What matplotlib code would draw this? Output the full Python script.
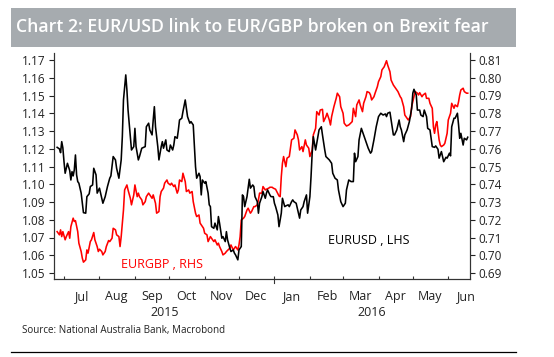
import numpy as np
import pandas as pd
import matplotlib
matplotlib.use("Agg")
import matplotlib.pyplot as plt
import matplotlib.dates as mdates
import matplotlib.transforms as mtrans
from matplotlib.patches import Rectangle
from matplotlib.lines import Line2D

plt.rcParams['font.family'] = ['Open Sans', 'DejaVu Sans']

START = pd.Timestamp("2015-07-01")

title = "Chart 2: EUR/USD link to EUR/GBP broken on Brexit fear"
source = "Source: National Australia Bank, Macrobond"
usd_label = "EURUSD , LHS"
gbp_label = "EURGBP , RHS"
year_labels = ["2015", "2016"]
lhs_ticks = [1.05, 1.06, 1.07, 1.08, 1.09, 1.10, 1.11, 1.12, 1.13, 1.14, 1.15, 1.16, 1.17]
rhs_ticks = [0.69, 0.70, 0.71, 0.72, 0.73, 0.74, 0.75, 0.76, 0.77, 0.78, 0.79, 0.80, 0.81]

# EURUSD (LHS): days since 2015-07-01 and values
usd_day = [-6, -4, -3, -2, -1, 0, 1, 2, 3, 5,
           6, 7, 8, 9, 10, 11, 12, 13, 15, 16,
           17, 19, 20, 22, 23, 25, 26, 28, 29, 31,
           32, 34, 36, 38, 40, 41, 43, 45, 46, 48,
           50, 51, 52, 54, 55, 56, 58, 59, 61, 62,
           63, 65, 66, 68, 71, 72, 74, 75, 77, 78,
           79, 80, 82, 83, 85, 86, 87, 89, 90, 92,
           93, 95, 96, 97, 99, 100, 101, 103, 104, 106,
           107, 108, 110, 111, 113, 114, 115, 116, 118, 119,
           120, 121, 123, 124, 126, 127, 128, 129, 131, 132,
           134, 135, 136, 138, 139, 141, 142, 143, 145, 146,
           148, 149, 150, 152, 153, 155, 156, 157, 158, 160,
           162, 163, 165, 166, 167, 169, 170, 171, 173, 174,
           176, 177, 178, 180, 181, 183, 184, 185, 187, 188,
           190, 191, 193, 194, 196, 197, 199, 200, 201, 203,
           204, 206, 207, 209, 210, 212, 213, 215, 216, 217,
           218, 220, 221, 223, 225, 226, 228, 229, 232, 234,
           235, 237, 239, 240, 242, 244, 246, 247, 249, 251,
           253, 254, 255, 257, 258, 260, 262, 264, 266, 268,
           269, 271, 273, 275, 277, 279, 281, 282, 283, 285,
           286, 288, 289, 291, 293, 294, 295, 297, 298, 300,
           302, 304, 305, 306, 308, 309, 311, 312, 314, 315,
           317, 318, 320, 321, 322, 324, 325, 327, 328, 330,
           331, 332, 334, 335, 337, 338, 339, 341, 342, 344,
           345, 346, 347, 349, 350, 352, 353]
usd_val = [1.1208, 1.1199, 1.1178, 1.1240, 1.1205, 1.1127, 1.1062, 1.1090, 1.1118, 1.1077,
           1.1024, 1.1071, 1.1047, 1.1081, 1.1165, 1.1053, 1.1015, 1.1006, 1.0950, 1.0893,
           1.0840, 1.0837, 1.0930, 1.0946, 1.0987, 1.0996, 1.1090, 1.1053, 1.0950, 1.0978,
           1.0950, 1.0893, 1.0930, 1.0987, 1.1034, 1.1047, 1.1156, 1.1137, 1.1090, 1.1034,
           1.1137, 1.1268, 1.1475, 1.1616, 1.1531, 1.1418, 1.1268, 1.1193, 1.1212, 1.1315,
           1.1212, 1.1137, 1.1156, 1.1203, 1.1212, 1.1324, 1.1344, 1.1306, 1.1278, 1.1362,
           1.1437, 1.1324, 1.1212, 1.1137, 1.1212, 1.1240, 1.1203, 1.1250, 1.1193, 1.1184,
           1.1221, 1.1193, 1.1221, 1.1268, 1.1259, 1.1306, 1.1362, 1.1372, 1.1409, 1.1475,
           1.1428, 1.1381, 1.1344, 1.1353, 1.1334, 1.1212, 1.1099, 1.1034, 1.1062, 1.1043,
           1.0940, 1.1024, 1.1006, 1.1015, 1.0950, 1.0884, 1.0874, 1.0761, 1.0752, 1.0781,
           1.0743, 1.0818, 1.0781, 1.0696, 1.0705, 1.0677, 1.0733, 1.0687, 1.0640, 1.0621,
           1.0630, 1.0612, 1.0602, 1.0574, 1.0630, 1.0649, 1.0940, 1.0930, 1.0874, 1.0930,
           1.1028, 1.0978, 1.0996, 1.0987, 1.0930, 1.0902, 1.0837, 1.0893, 1.0930, 1.0959,
           1.0921, 1.0950, 1.0968, 1.0940, 1.0930, 1.0930, 1.0893, 1.0874, 1.0827, 1.0761,
           1.0837, 1.0921, 1.0874, 1.0878, 1.0884, 1.0874, 1.0902, 1.0912, 1.0902, 1.0893,
           1.0865, 1.0809, 1.0855, 1.0874, 1.0902, 1.0940, 1.0837, 1.0930, 1.1043, 1.1175,
           1.1268, 1.1193, 1.1231, 1.1306, 1.1324, 1.1278, 1.1193, 1.1156, 1.1137, 1.1118,
           1.1062, 1.1034, 1.1024, 1.0968, 1.0902, 1.0874, 1.0893, 1.0968, 1.1024, 1.1015,
           1.1015, 1.1175, 1.1127, 1.1156, 1.1250, 1.1315, 1.1278, 1.1240, 1.1203, 1.1175,
           1.1184, 1.1250, 1.1324, 1.1381, 1.1400, 1.1390, 1.1396, 1.1381, 1.1400, 1.1406,
           1.1362, 1.1278, 1.1278, 1.1306, 1.1362, 1.1324, 1.1306, 1.1240, 1.1278, 1.1306,
           1.1353, 1.1428, 1.1513, 1.1535, 1.1503, 1.1418, 1.1418, 1.1390, 1.1381, 1.1418,
           1.1381, 1.1315, 1.1306, 1.1259, 1.1212, 1.1208, 1.1216, 1.1197, 1.1147, 1.1184,
           1.1156, 1.1127, 1.1152, 1.1147, 1.1175, 1.1160, 1.1324, 1.1372, 1.1372, 1.1400,
           1.1334, 1.1259, 1.1287, 1.1221, 1.1259, 1.1250, 1.1265]

# EURGBP (RHS): days since 2015-07-01 and values
gbp_day = [-6, -4, -3, -2, -1, 1, 2, 4, 5, 6,
           8, 9, 10, 12, 13, 15, 16, 17, 19, 20,
           21, 23, 24, 26, 27, 29, 30, 31, 33, 34,
           36, 37, 39, 40, 42, 43, 45, 46, 48, 49,
           50, 52, 53, 55, 56, 58, 59, 61, 62, 64,
           65, 66, 68, 69, 71, 72, 74, 75, 77, 78,
           80, 81, 83, 84, 85, 87, 88, 90, 91, 93,
           94, 96, 97, 99, 100, 101, 103, 104, 106, 107,
           109, 110, 112, 113, 115, 116, 118, 119, 120, 122,
           123, 125, 126, 128, 129, 131, 132, 134, 135, 136,
           138, 139, 141, 142, 145, 146, 148, 149, 150, 152,
           153, 154, 155, 157, 158, 160, 161, 163, 164, 166,
           167, 169, 170, 171, 173, 174, 176, 177, 179, 180,
           182, 183, 185, 186, 188, 189, 190, 191, 192, 194,
           195, 197, 198, 199, 201, 202, 204, 205, 206, 208,
           209, 211, 212, 214, 215, 217, 218, 220, 221, 223,
           224, 226, 227, 229, 230, 232, 233, 234, 236, 238,
           239, 241, 242, 244, 245, 247, 249, 250, 252, 253,
           255, 256, 258, 259, 261, 262, 264, 265, 267, 268,
           269, 271, 272, 274, 275, 277, 278, 280, 282, 283,
           285, 286, 288, 290, 292, 294, 295, 297, 298, 300,
           301, 303, 304, 306, 307, 309, 310, 311, 313, 314,
           316, 317, 319, 320, 322, 323, 324, 325, 326, 328,
           329, 330, 332, 333, 335, 336, 338, 339, 341, 342,
           344, 345, 346, 347, 349, 350, 352, 353]
gbp_val = [0.7133, 0.7115, 0.7143, 0.7105, 0.7133, 0.7087, 0.7105, 0.7133, 0.7096, 0.7161,
           0.7209, 0.7190, 0.7195, 0.7133, 0.7068, 0.7021, 0.6984, 0.6961, 0.6974, 0.7030,
           0.7012, 0.7077, 0.7087, 0.7128, 0.7087, 0.7049, 0.7021, 0.7034, 0.7021, 0.7002,
           0.7021, 0.7049, 0.7083, 0.7077, 0.7096, 0.7152, 0.7143, 0.7115, 0.7105, 0.7049,
           0.7105, 0.7255, 0.7368, 0.7396, 0.7368, 0.7321, 0.7284, 0.7340, 0.7396, 0.7330,
           0.7350, 0.7330, 0.7312, 0.7284, 0.7302, 0.7330, 0.7350, 0.7340, 0.7321, 0.7340,
           0.7293, 0.7237, 0.7246, 0.7330, 0.7359, 0.7378, 0.7406, 0.7424, 0.7406, 0.7396,
           0.7406, 0.7387, 0.7396, 0.7350, 0.7368, 0.7424, 0.7415, 0.7462, 0.7415, 0.7359,
           0.7368, 0.7350, 0.7359, 0.7302, 0.7237, 0.7218, 0.7227, 0.7181, 0.7171, 0.7152,
           0.7124, 0.7115, 0.7077, 0.7105, 0.7096, 0.7077, 0.7087, 0.7058, 0.7068, 0.7049,
           0.7021, 0.7002, 0.7012, 0.7021, 0.7040, 0.7058, 0.7030, 0.7040, 0.7049, 0.7030,
           0.7058, 0.7105, 0.7199, 0.7209, 0.7218, 0.7255, 0.7265, 0.7237, 0.7246, 0.7274,
           0.7274, 0.7284, 0.7312, 0.7350, 0.7350, 0.7387, 0.7368, 0.7372, 0.7378, 0.7383,
           0.7383, 0.7378, 0.7372, 0.7359, 0.7334, 0.7330, 0.7443, 0.7518, 0.7556, 0.7499,
           0.7547, 0.7556, 0.7603, 0.7650, 0.7659, 0.7706, 0.7678, 0.7650, 0.7593, 0.7612,
           0.7584, 0.7650, 0.7621, 0.7603, 0.7556, 0.7593, 0.7678, 0.7715, 0.7809, 0.7790,
           0.7818, 0.7822, 0.7753, 0.7781, 0.7800, 0.7762, 0.7734, 0.7781, 0.7837, 0.7884,
           0.7913, 0.7893, 0.7837, 0.7800, 0.7744, 0.7728, 0.7734, 0.7740, 0.7753, 0.7828,
           0.7781, 0.7847, 0.7875, 0.7847, 0.7809, 0.7856, 0.7893, 0.7922, 0.7916, 0.7903,
           0.7875, 0.7893, 0.7913, 0.7950, 0.7978, 0.8006, 0.8044, 0.8062, 0.8096, 0.8072,
           0.8034, 0.7987, 0.7959, 0.7941, 0.7922, 0.7893, 0.7884, 0.7837, 0.7790, 0.7772,
           0.7762, 0.7781, 0.7837, 0.7893, 0.7922, 0.7913, 0.7903, 0.7916, 0.7893, 0.7903,
           0.7913, 0.7884, 0.7884, 0.7856, 0.7828, 0.7724, 0.7687, 0.7734, 0.7753, 0.7650,
           0.7621, 0.7612, 0.7621, 0.7631, 0.7687, 0.7762, 0.7800, 0.7856, 0.7828, 0.7847,
           0.7837, 0.7865, 0.7903, 0.7931, 0.7941, 0.7922, 0.7913, 0.7913]

usd_dates = START + pd.to_timedelta(usd_day, unit="D")
gbp_dates = START + pd.to_timedelta(gbp_day, unit="D")

W, H = 554, 357
fig = plt.figure(figsize=(W / 100, H / 100), dpi=100)

# title bar
fig.patches.append(Rectangle((10.6 / W, 1 - 47 / H), (516 - 10.6) / W, 39 / H,
                             transform=fig.transFigure, facecolor="#A6ABAF",
                             edgecolor="none", zorder=0))
fig.text(16 / W, 1 - 27.5 / H, title, color="white", fontsize=12.7,
         fontweight="semibold", ha="left", va="center")

ax = fig.add_axes([54 / W, 1 - 279 / H, (470 - 54) / W, 226 / H])
ax2 = ax.twinx()
ax.set_zorder(ax2.get_zorder() + 1)
ax.patch.set_visible(False)

ax2.plot(gbp_dates, gbp_val, color="#FF0000", lw=1.15)
ax.plot(usd_dates, usd_val, color="black", lw=1.15)

x0 = START - pd.Timedelta(days=8.75)
x1 = START + pd.Timedelta(days=355)
ax.set_xlim(x0, x1)
ax.set_ylim(1.05 - 6 / 1775, 1.17 + 7 / 1775)
ax2.set_ylim(0.69 - 6 / 1775, 0.81 + 7 / 1775)

ax.set_yticks(lhs_ticks)
ax.set_yticklabels([f"{v:.2f}" for v in lhs_ticks])
ax2.set_yticks(rhs_ticks)
ax2.set_yticklabels([f"{v:.2f}" for v in rhs_ticks])

for a in (ax, ax2):
    a.spines["top"].set_visible(False)
    for s in a.spines.values():
        s.set_color("#333333")
        s.set_linewidth(0.8)
ax.tick_params(axis="y", direction="out", length=3.5, width=0.8, pad=2.5,
               labelsize=8.5, colors="#222222", left=True, right=False)
ax2.tick_params(axis="y", direction="out", length=3.5, width=0.8, pad=2.5,
                labelsize=8.5, colors="#222222", right=True, left=False)

# x axis: month boundary ticks inside, labels mid-month
ax.xaxis.set_major_locator(mdates.MonthLocator())
ax.xaxis.set_major_formatter(plt.NullFormatter())
ax.xaxis.set_minor_locator(mdates.MonthLocator(bymonthday=16))
ax.xaxis.set_minor_formatter(mdates.DateFormatter("%b"))
ax.tick_params(axis="x", which="major", direction="in", length=2.5, width=0.8,
               colors="#333333")
ax.tick_params(axis="x", which="minor", length=0, pad=8, labelsize=9,
               labelcolor="#222222")
ax2.tick_params(axis="x", which="both", length=0, labelbottom=False)

# year boundary tick (downward)
trans = mtrans.blended_transform_factory(ax.transData, ax.transAxes)
jan = pd.Timestamp("2016-01-01")
ax.add_line(Line2D([jan, jan], [0, -3.5 / 226], transform=trans, color="#333333",
                   lw=0.8, clip_on=False))

for lab, (a, b) in zip(year_labels, [(x0, jan), (jan, x1)]):
    mid = a + (b - a) / 2
    ax.text(mid, -(312 - 279) / 226, lab, transform=trans, ha="center",
            va="center", fontsize=9, color="#222222")

ax.text((120.7 - 54) / 416, (279 - 264) / 226, gbp_label, transform=ax.transAxes,
        color="#FF0000", fontsize=9, ha="left", va="center")
ax.text((327.7 - 54) / 416, (279 - 240) / 226, usd_label, transform=ax.transAxes,
        color="black", fontsize=9, ha="left", va="center")

fig.text(22 / W, 1 - 330 / H, source, fontsize=7.1, color="#222222",
         ha="left", va="center")
fig.add_artist(Line2D([10.6 / W, 516 / W], [1 - 352 / H, 1 - 352 / H],
                      transform=fig.transFigure, color="black", lw=0.9))

fig.savefig("out.png", dpi=100)
